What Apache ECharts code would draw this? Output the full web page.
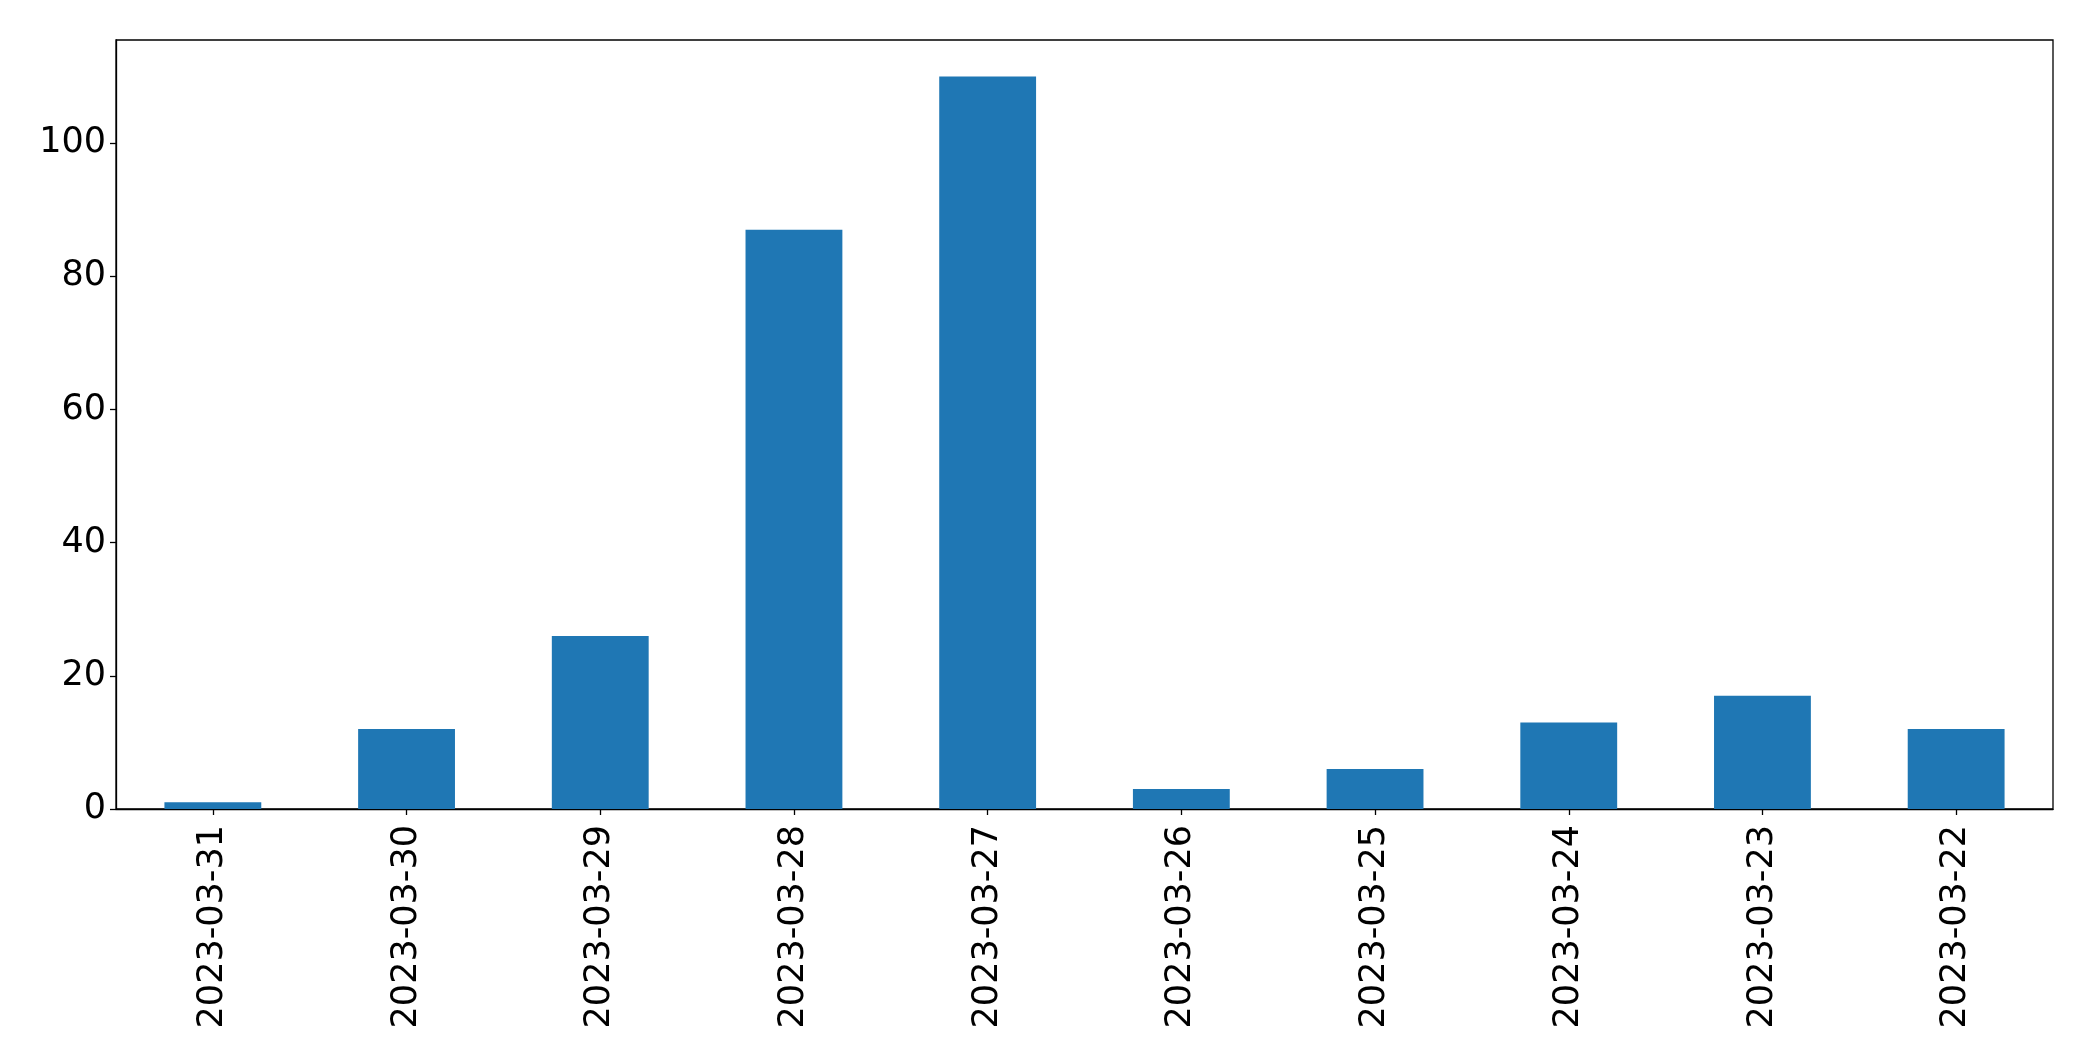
<!DOCTYPE html>
<html>
<head>
<meta charset="utf-8">
<script src="https://cdn.jsdelivr.net/npm/echarts@6/dist/echarts.min.js"></script>
<style>html,body{margin:0;padding:0;background:#fff}#c{width:2093px;height:1061px}</style>
</head>
<body>
<div id="c"></div>
<script>
const categories = ["2023-03-31","2023-03-30","2023-03-29","2023-03-28","2023-03-27","2023-03-26","2023-03-25","2023-03-24","2023-03-23","2023-03-22"];
const values = [1, 12, 26, 87, 110, 3, 6, 13, 17, 12];
const yTicks = [0, 20, 40, 60, 80, 100];

const chart = echarts.init(document.getElementById('c'), null, {renderer: 'canvas'});
const font = 'DejaVu Sans';
chart.setOption({
  animation: false,
  backgroundColor: '#fff',
  grid: {left: 116, right: 40, top: 40, bottom: 252, show: true, borderColor: '#000', borderWidth: 1.3, backgroundColor: 'transparent'},
  xAxis: {
    type: 'category',
    data: categories,
    axisLine: {show: true, lineStyle: {color: '#000', width: 1.3}},
    axisTick: {show: true, alignWithLabel: true, length: 6, lineStyle: {color: '#000', width: 1.3}},
    axisLabel: {rotate: 90, margin: 16, fontFamily: font, fontSize: 35, color: '#000', interval: 0},
    splitLine: {show: false}
  },
  yAxis: {
    type: 'value',
    min: 0,
    max: 115.5,
    interval: 20,
    axisLine: {show: true, lineStyle: {color: '#000', width: 1.3}},
    axisTick: {show: true, length: 6, customValues: yTicks, lineStyle: {color: '#000', width: 1.3}},
    axisLabel: {margin: 10, fontFamily: font, fontSize: 35, color: '#000', customValues: yTicks, verticalAlign: 'middle', padding: [6, 0, 0, 0]},
    splitLine: {show: false}
  },
  series: [{
    type: 'bar',
    data: values,
    barWidth: '50%',
    itemStyle: {color: '#1f77b4'}
  }]
});
</script>
</body>
</html>
